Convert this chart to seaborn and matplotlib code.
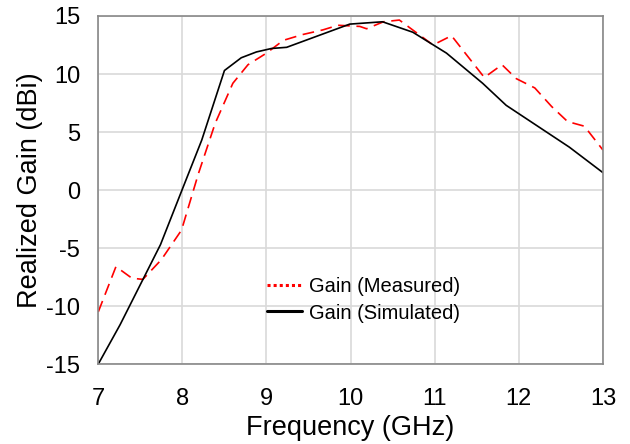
import numpy as np
import pandas as pd
import matplotlib
matplotlib.use("Agg")
import matplotlib.pyplot as plt
import seaborn as sns
from matplotlib.lines import Line2D

# Data
sim_freq = [7.0, 7.26, 7.74, 7.99, 8.23, 8.50, 8.70, 8.88, 9.06, 9.24, 9.99, 10.38,
            10.74, 11.14, 11.57, 11.85, 12.60, 13.0]
sim_gain = [-15.0, -11.6, -4.7, -0.1, 4.3, 10.3, 11.4, 11.9, 12.2, 12.3, 14.3, 14.5,
            13.6, 11.8, 9.2, 7.3, 3.7, 1.5]

meas_freq = [7.0, 7.21, 7.40, 7.53, 7.75, 7.99, 8.19, 8.39, 8.60, 8.78, 9.0, 9.20,
             9.43, 9.67, 9.85, 10.11, 10.19, 10.39, 10.58, 10.98, 11.2, 11.59, 11.80,
             11.97, 12.19, 12.39, 12.58, 12.78, 13.0]
meas_gain = [-10.5, -6.6, -7.6, -7.7, -6.0, -3.45, 1.4, 5.75, 9.2, 10.8, 11.8, 12.9,
             13.4, 13.8, 14.2, 14.1, 13.9, 14.5, 14.65, 12.5, 13.3, 9.7, 10.8,
             9.6, 8.8, 7.2, 5.9, 5.5, 3.45]

labels = ["Gain (Measured)", "Gain (Simulated)"]
x_ticks = [7, 8, 9, 10, 11, 12, 13]
y_ticks = [-15, -10, -5, 0, 5, 10, 15]

df = pd.concat([
    pd.DataFrame({"freq": meas_freq, "gain": meas_gain, "series": labels[0]}),
    pd.DataFrame({"freq": sim_freq, "gain": sim_gain, "series": labels[1]}),
])

sns.set_style("white")
plt.rcParams["font.family"] = ["Liberation Sans", "DejaVu Sans"]
plt.rcParams["text.color"] = "black"
plt.rcParams["axes.labelcolor"] = "black"
plt.rcParams["xtick.color"] = "black"
plt.rcParams["ytick.color"] = "black"

fig = plt.figure(figsize=(6.3, 4.44), dpi=100)
ax = fig.add_axes([0.156, 0.18, 0.801, 0.784])

sns.lineplot(data=df, x="freq", y="gain", hue="series", style="series",
             palette={labels[0]: "#ff0000", labels[1]: "#000000"},
             dashes={labels[0]: (7, 4), labels[1]: ""},
             linewidth=1.2, sort=False, ax=ax, legend=False)

ax.set_xlim(7, 13)
ax.set_ylim(-15, 15)
ax.set_xticks(x_ticks)
ax.set_yticks(y_ticks)
ax.set_xticklabels([str(t) for t in x_ticks], fontsize=17)
ax.set_yticklabels([str(t) for t in y_ticks], fontsize=17)
ax.tick_params(axis="x", length=0, pad=17.5)
ax.tick_params(axis="y", length=0, pad=13)
ax.grid(True, color="#d9d9d9", linewidth=1.2)
ax.set_axisbelow(True)
for s in ax.spines.values():
    s.set_color("#888888")
    s.set_linewidth(1.2)

ax.set_xlabel("Frequency (GHz)", fontsize=19.5, labelpad=3)
ax.set_ylabel("Realized Gain (dBi)", fontsize=19.5, labelpad=2)

handles = [Line2D([], [], color="#ff0000", linestyle=(0, (1, 1)), linewidth=2.2),
           Line2D([], [], color="#000000", linestyle="-", linewidth=2.2)]
ax.legend(handles, labels, loc="center left", bbox_to_anchor=(0.335, 0.185),
          frameon=False, fontsize=14.5, handlelength=1.7, handletextpad=0.35,
          labelspacing=0.38, borderpad=0, borderaxespad=0)

fig.savefig("out.png", dpi=100)
